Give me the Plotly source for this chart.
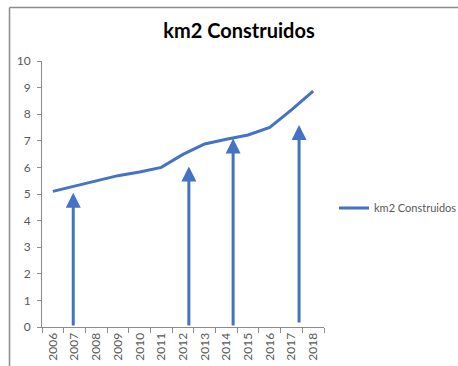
import plotly.graph_objects as go

# Built area per year (km2)
years = ["2006", "2007", "2008", "2009", "2010", "2011", "2012",
         "2013", "2014", "2015", "2016", "2017", "2018"]
km2 = [5.1, 5.3, 5.5, 5.69, 5.83, 6.0, 6.49, 6.88, 7.06, 7.22, 7.5, 8.16, 8.87]

# Upward arrows: position along the category axis, tip value and base value
arrow_pos = [0.94, 6.27, 8.31, 11.35]
arrow_tip = [5.05, 6.03, 7.09, 7.59]
arrow_base = [0.0, 0.0, 0.0, 0.11]

y_ticks = list(range(0, 11))

BLUE = "#4472C4"
GRAY_TXT = "#595959"
AXIS = "#8c8c8c"

W, H = 458, 366
L, R, T, B = 42, 134, 61, 39
pw, ph = W - L - R, H - T - B


def px(x):
    return (x - L) / pw


def py(y):
    return (H - B - y) / ph


fig = go.Figure()
fig.add_trace(go.Scatter(
    x=years, y=km2, mode="lines", name="km2 Construidos",
    line=dict(color=BLUE, width=3),
))

for xa, yt, yb in zip(arrow_pos, arrow_tip, arrow_base):
    fig.add_annotation(
        x=xa, y=yt, ax=xa, ay=yb, xref="x", yref="y", axref="x", ayref="y",
        showarrow=True, arrowhead=2, arrowsize=1, arrowwidth=3,
        arrowcolor=BLUE, text="", standoff=0,
    )

# chart-area frame (left and top edges)
fig.add_shape(type="line", xref="paper", yref="paper",
              x0=px(9.5), x1=px(9.5), y0=py(7.5), y1=py(H + 5),
              line=dict(color=AXIS, width=1.5))
fig.add_shape(type="line", xref="paper", yref="paper",
              x0=px(9.5), x1=px(W + 5), y0=py(7.5), y1=py(7.5),
              line=dict(color=AXIS, width=1.5))

fig.update_layout(
    width=W, height=H,
    margin=dict(l=L, r=R, t=T, b=B, autoexpand=False),
    paper_bgcolor="white", plot_bgcolor="white",
    font=dict(family="Lato", color=GRAY_TXT, size=12),
    title=dict(text="<b>km2 Construidos</b>", xref="container",
               x=239 / W, xanchor="center",
               yref="container", y=1 - 31 / H, yanchor="middle",
               font=dict(family="Lato", size=20, color="#000000")),
    showlegend=True,
    legend=dict(x=px(334), xanchor="left", y=py(208), yanchor="middle",
                font=dict(family="Lato", size=11, color=GRAY_TXT),
                bgcolor="rgba(0,0,0,0)", itemwidth=30),
    xaxis=dict(type="category", range=[-0.5, 12.5], tickangle=-90,
               showline=True, linecolor=AXIS, linewidth=1,
               ticks="outside", tickson="boundaries", ticklen=5,
               tickcolor=AXIS, showgrid=False, zeroline=False,
               tickfont=dict(size=12, color=GRAY_TXT)),
    yaxis=dict(range=[0, 10], tickvals=y_ticks, showline=True,
               linecolor=AXIS, linewidth=1, ticks="outside", ticklen=4,
               tickcolor=AXIS, showgrid=False, zeroline=False,
               ticklabelstandoff=4,
               tickfont=dict(size=12, color=GRAY_TXT)),
)

fig.write_html("out.html")
